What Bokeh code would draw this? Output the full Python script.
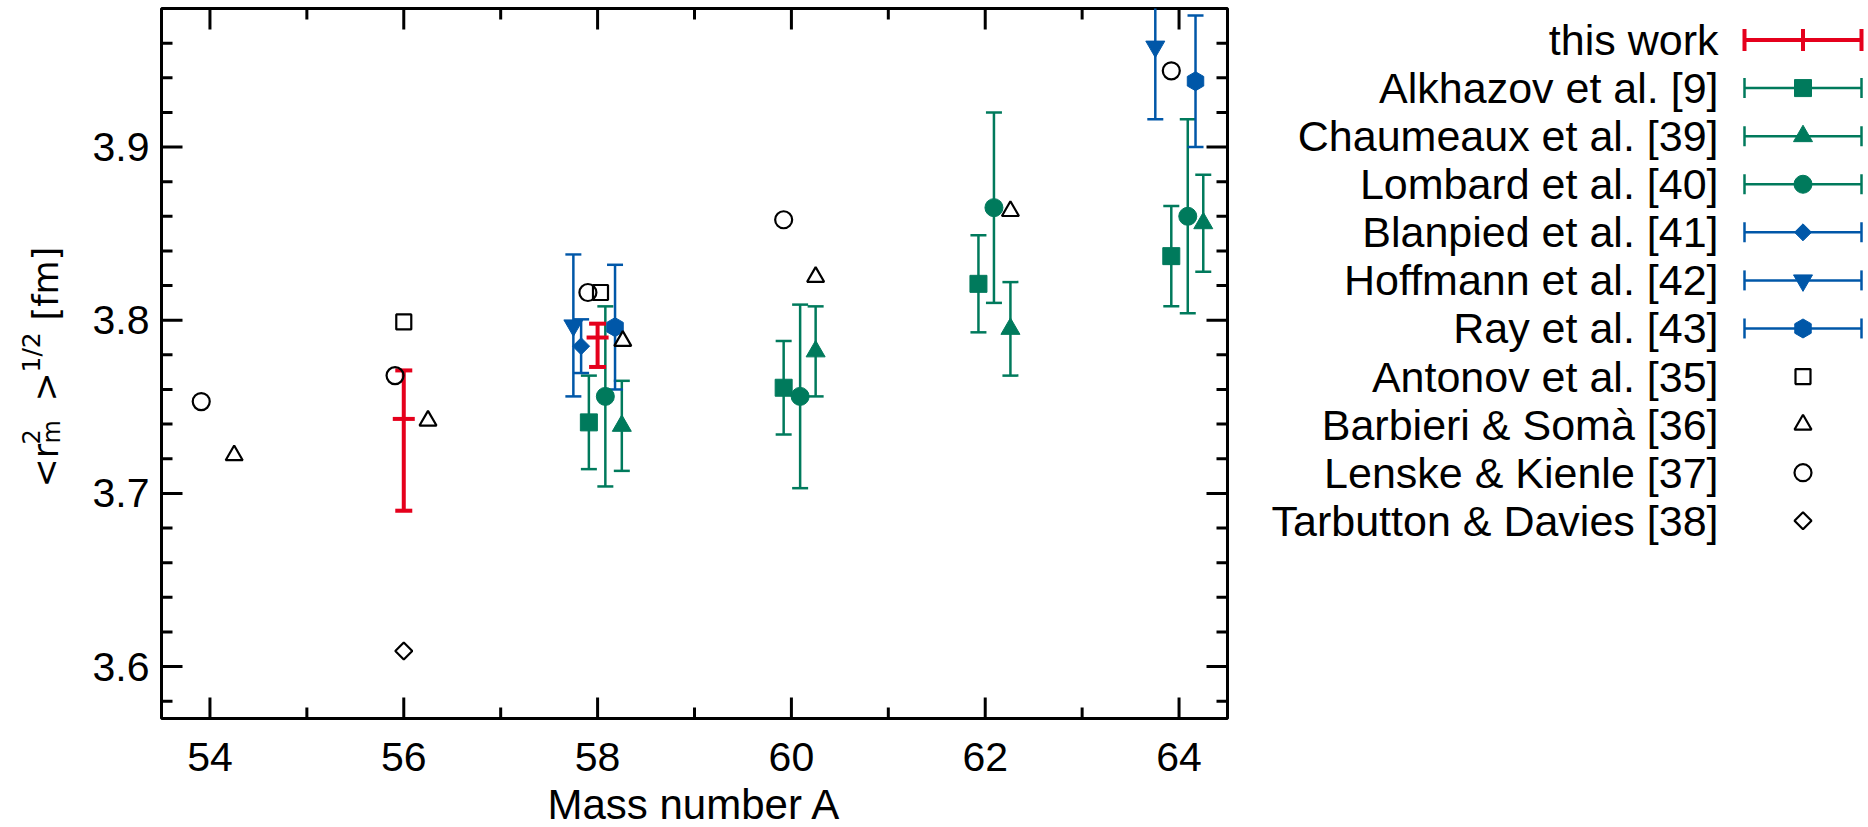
import math
from bokeh.plotting import figure
from bokeh.models import Range1d
from bokeh.layouts import row, column
from bokeh.embed import file_html
from bokeh.resources import INLINE
from bokeh.core.properties import value

# ---------------- data ----------------
X_MIN, X_MAX = 53.5, 64.5
Y_MIN, Y_MAX = 3.57, 3.98
x_ticks = [54, 56, 58, 60, 62, 64]
x_tick_labels = ["54", "56", "58", "60", "62", "64"]
x_minor = [55, 57, 59, 61, 63]
y_ticks = [3.6, 3.7, 3.8, 3.9]
y_tick_labels = ["3.6", "3.7", "3.8", "3.9"]
y_minor = [3.58, 3.62, 3.64, 3.66, 3.68, 3.72, 3.74, 3.76, 3.78,
           3.82, 3.84, 3.86, 3.88, 3.92, 3.94, 3.96]

this_work_x = [56.0, 58.0]
this_work_y = [3.743, 3.790]
this_work_hi = [3.771, 3.798]
this_work_lo = [3.690, 3.773]

alkhazov_x = [57.91, 59.92, 61.93, 63.92]
alkhazov_y = [3.741, 3.761, 3.821, 3.837]
alkhazov_err = [0.027, 0.027, 0.028, 0.029]

chaumeaux_x = [58.25, 60.25, 62.26, 64.25]
chaumeaux_y = [3.739, 3.782, 3.795, 3.856]
chaumeaux_err = [0.026, 0.026, 0.027, 0.028]

lombard_x = [58.08, 60.09, 62.09, 64.09]
lombard_y = [3.756, 3.756, 3.865, 3.860]
lombard_err = [0.052, 0.053, 0.055, 0.056]

blanpied_x = [57.83]
blanpied_y = [3.785]
blanpied_err = [0.0155]

hoffmann_x = [57.75, 63.755]
hoffmann_y = [3.797, 3.958]
hoffmann_err = [0.041, 0.042]

ray_x = [58.18, 64.17]
ray_y = [3.796, 3.938]
ray_err = [0.036, 0.038]

antonov_x = [56.0, 58.03]
antonov_y = [3.799, 3.816]

barbieri_x = [54.25, 56.25, 58.26, 60.25, 62.26]
barbieri_y = [3.722, 3.742, 3.788, 3.825, 3.863]

lenske_x = [53.91, 55.91, 57.90, 59.92, 63.92]
lenske_y = [3.753, 3.768, 3.816, 3.858, 3.944]

tarbutton_x = [56.0]
tarbutton_y = [3.609]

legend_names = ["this work", "Alkhazov et al. [9]", "Chaumeaux et al. [39]",
                "Lombard et al. [40]", "Blanpied et al. [41]", "Hoffmann et al. [42]",
                "Ray et al. [43]", "Antonov et al. [35]", "Barbieri & Somà [36]",
                "Lenske & Kienle [37]", "Tarbutton & Davies [38]"]
x_title = "Mass number A"

# ---------------- styles ----------------
RED = "#E5001C"
GREEN = "#007A5C"
BLUE = "#0057A8"
FONT = "Liberation Sans"
YFONT = "DejaVu Sans"

err_series = [
    # name, xs, ys, errs, color, marker, size, angle
    (legend_names[1], alkhazov_x, alkhazov_y, alkhazov_err, GREEN, "square", 17, 0.0),
    (legend_names[2], chaumeaux_x, chaumeaux_y, chaumeaux_err, GREEN, "triangle", 19, 0.0),
    (legend_names[3], lombard_x, lombard_y, lombard_err, GREEN, "circle", 18, 0.0),
    (legend_names[4], blanpied_x, blanpied_y, blanpied_err, BLUE, "square", 12, math.pi / 4),
    (legend_names[5], hoffmann_x, hoffmann_y, hoffmann_err, BLUE, "inverted_triangle", 19, 0.0),
    (legend_names[6], ray_x, ray_y, ray_err, BLUE, "hex", 19, math.pi / 2),
]
open_series = [
    (legend_names[7], antonov_x, antonov_y, "square", 15, 0.0),
    (legend_names[8], barbieri_x, barbieri_y, "triangle", 17, 0.0),
    (legend_names[9], lenske_x, lenske_y, "circle", 17, 0.0),
    (legend_names[10], tarbutton_x, tarbutton_y, "square", 12, math.pi / 4),
]


def blank(fig):
    fig.outline_line_color = None
    fig.xgrid.visible = False
    fig.ygrid.visible = False
    fig.background_fill_color = "white"
    fig.border_fill_color = "white"


# ---------------- main plot area ----------------
p = figure(width=1082, height=721, x_range=Range1d(X_MIN, X_MAX), y_range=Range1d(Y_MIN, Y_MAX),
           output_backend="svg", toolbar_location=None, x_axis_type=None, y_axis_type=None,
           min_border_left=3, min_border_right=13, min_border_top=8, min_border_bottom=3)
blank(p)
p.outline_line_color = "black"
p.outline_line_width = 3

# ticks on all four sides (inward), drawn as markers centred on the frame edge
MAJ, MIN_ = 42, 22
for yy in (Y_MIN, Y_MAX):
    p.scatter(x=x_ticks, y=[yy] * len(x_ticks), marker="dash", angle=math.pi / 2, size=MAJ,
              line_color="black", line_width=3)
    p.scatter(x=x_minor, y=[yy] * len(x_minor), marker="dash", angle=math.pi / 2, size=MIN_,
              line_color="black", line_width=3)
for xx in (X_MIN, X_MAX):
    p.scatter(x=[xx] * len(y_ticks), y=y_ticks, marker="dash", size=MAJ,
              line_color="black", line_width=3)
    p.scatter(x=[xx] * len(y_minor), y=y_minor, marker="dash", size=MIN_,
              line_color="black", line_width=3)

# error bars (green / blue)
for name, xs, ys, errs, color, marker, size, angle in err_series:
    lo = [y - e for y, e in zip(ys, errs)]
    hi = [y + e for y, e in zip(ys, errs)]
    p.segment(x0=xs, y0=lo, x1=xs, y1=hi, line_color=color, line_width=2.5)
    p.scatter(x=xs + xs, y=lo + hi, marker="dash", size=16, line_color=color, line_width=2.5)

# this work (red)
p.segment(x0=this_work_x, y0=this_work_lo, x1=this_work_x, y1=this_work_hi,
          line_color=RED, line_width=4)
p.scatter(x=this_work_x + this_work_x, y=this_work_lo + this_work_hi, marker="dash",
          size=17, line_color=RED, line_width=4)
p.scatter(x=this_work_x, y=this_work_y, marker="dash", size=22, line_color=RED, line_width=4)

for name, xs, ys, errs, color, marker, size, angle in err_series:
    p.scatter(x=xs, y=ys, marker=marker, size=size, angle=angle,
              fill_color=color, line_color=color, line_width=1)

for name, xs, ys, marker, size, angle in open_series:
    p.scatter(x=xs, y=ys, marker=marker, size=size, angle=angle,
              fill_color=None, line_color="black", line_width=2.2)

# ---------------- bottom strip: x tick labels and x title ----------------
xf = figure(width=1082, height=106, x_range=Range1d(X_MIN, X_MAX), y_range=Range1d(106, 0),
            output_backend="svg", toolbar_location=None, x_axis_type=None, y_axis_type=None,
            min_border_left=3, min_border_right=13, min_border_top=0, min_border_bottom=0)
blank(xf)
xf.text(x=x_ticks, y=[35] * len(x_ticks), text=x_tick_labels, text_align="center",
        text_baseline="middle", text_font=value(FONT), text_font_size="41px",
        text_color="black")
xf.text(x=[(X_MIN + X_MAX) / 2], y=[83], text=[x_title], text_align="center",
        text_baseline="middle", text_font=value(FONT), text_font_size="42px",
        text_color="black")

# ---------------- left strip: y tick labels and y title ----------------
yf = figure(width=158, height=827, x_range=Range1d(0, 158), y_range=Range1d(Y_MIN, Y_MAX),
            output_backend="svg", toolbar_location=None, x_axis_type=None, y_axis_type=None,
            min_border_left=0, min_border_right=0, min_border_top=8, min_border_bottom=109)
yf.extra_y_ranges = {"px": Range1d(718, 8)}
blank(yf)
yf.text(x=[149] * len(y_ticks), y=y_ticks, text=y_tick_labels, text_align="right",
        text_baseline="middle", text_font=value(FONT), text_font_size="41px",
        text_color="black")

ylabel_parts = [
    # text, baseline x (px), start row (px), size
    ("<r", 45, 487, "35px"),
    ("2", 30, 444, "24px"),
    ("m", 51, 443, "24px"),
    (">", 45, 401, "35px"),
    ("1/2", 31, 372, "25px"),
    ("[fm]", 45, 320, "35px"),
]
for t, bx, sy, fs in ylabel_parts:
    yf.text(x=[bx], y=[sy], text=[t], angle=math.pi / 2, text_align="left",
            text_baseline="alphabetic", text_font=value(YFONT), text_font_size=fs,
            text_color="black", y_range_name="px")

# ---------------- legend panel ----------------
lg = figure(width=628, height=827, x_range=Range1d(0, 628), y_range=Range1d(827, 0),
            output_backend="svg", toolbar_location=None, min_border=0,
            x_axis_type=None, y_axis_type=None)
blank(lg)

LEG_TOP = 36.7
LEG_STEP = 56.0
TEXT_X = 478
LINE_X0 = 504
LINE_X1 = 621
MARK_X = 562.5
rows_y = [LEG_TOP + i * LEG_STEP for i in range(len(legend_names))]

lg.text(x=[TEXT_X] * len(legend_names), y=rows_y, text=legend_names, text_align="right",
        text_baseline="middle", text_font=value(FONT), text_font_size="43px", text_color="black")

ry = rows_y[0]
lg.segment(x0=[LINE_X0], y0=[ry], x1=[LINE_X1], y1=[ry], line_color=RED, line_width=4)
lg.scatter(x=[LINE_X0, MARK_X, LINE_X1], y=[ry, ry, ry], marker="dash", angle=math.pi / 2,
           size=22, line_color=RED, line_width=4)

for name, xs, ys, errs, color, marker, size, angle in err_series:
    ry = rows_y[legend_names.index(name)]
    lg.segment(x0=[LINE_X0], y0=[ry], x1=[LINE_X1], y1=[ry], line_color=color, line_width=2.5)
    lg.scatter(x=[LINE_X0, LINE_X1], y=[ry, ry], marker="dash", angle=math.pi / 2,
               size=20, line_color=color, line_width=2.5)
    lg.scatter(x=[MARK_X], y=[ry], marker=marker, size=size, angle=angle,
               fill_color=color, line_color=color, line_width=1)

for name, xs, ys, marker, size, angle in open_series:
    ry = rows_y[legend_names.index(name)]
    lg.scatter(x=[MARK_X], y=[ry], marker=marker, size=size, angle=angle,
               fill_color=None, line_color="black", line_width=2.2)

layout = row(yf, column(p, xf), lg)
open("out.html", "w").write(file_html(layout, INLINE))
